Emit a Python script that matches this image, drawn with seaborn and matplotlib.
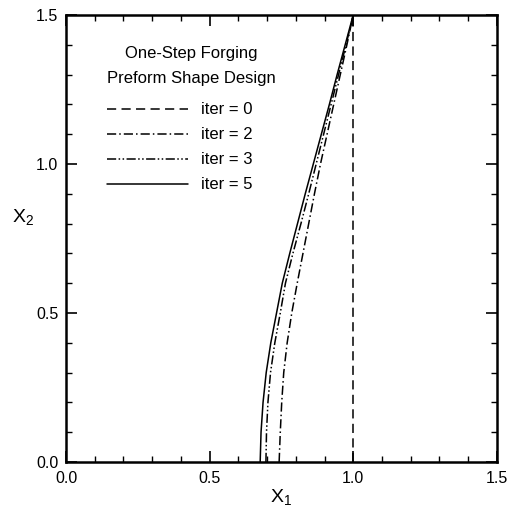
import numpy as np
import pandas as pd
import matplotlib
matplotlib.use("Agg")
import matplotlib.pyplot as plt
from matplotlib.ticker import MultipleLocator, FormatStrFormatter
import seaborn as sns

# Preform boundary profiles: X1 position along the height X2
x2_levels = [0.0, 0.1, 0.2, 0.3, 0.4, 0.5, 0.6, 0.7, 0.8, 0.9, 1.0, 1.1, 1.2, 1.3, 1.4, 1.5]
x1_iter0 = [1.0, 1.0, 1.0, 1.0, 1.0, 1.0, 1.0, 1.0, 1.0, 1.0, 1.0, 1.0, 1.0, 1.0, 1.0, 1.0]
x1_iter2 = [0.742, 0.746, 0.751, 0.758, 0.770, 0.786, 0.805, 0.825, 0.845, 0.865, 0.886, 0.909, 0.932, 0.955, 0.978, 1.0]
x1_iter3 = [0.696, 0.698, 0.703, 0.712, 0.727, 0.746, 0.764, 0.790, 0.818, 0.845, 0.871, 0.897, 0.923, 0.949, 0.975, 1.0]
x1_iter5 = [0.676, 0.679, 0.686, 0.697, 0.713, 0.733, 0.753, 0.779, 0.806, 0.833, 0.861, 0.889, 0.917, 0.944, 0.972, 1.0]

series_labels = ["iter = 0", "iter = 2", "iter = 3", "iter = 5"]
legend_title = "One-Step Forging\nPreform Shape Design"

frames = []
for lab, xs in zip(series_labels, [x1_iter0, x1_iter2, x1_iter3, x1_iter5]):
    frames.append(pd.DataFrame({"X1": xs, "X2": x2_levels, "iteration": lab}))
df = pd.concat(frames, ignore_index=True)

sns.set_theme(style="ticks")
plt.rcParams["font.family"] = ["Liberation Sans", "DejaVu Sans"]
plt.rcParams["mathtext.fontset"] = "custom"
plt.rcParams["mathtext.rm"] = "Liberation Sans"
plt.rcParams["text.color"] = "black"
plt.rcParams["axes.labelcolor"] = "black"
plt.rcParams["xtick.color"] = "black"
plt.rcParams["ytick.color"] = "black"

fig = plt.figure(figsize=(5.08, 5.08), dpi=100)
ax = fig.add_axes([0.130, 0.0906, 0.848, 0.880])

dash_styles = {
    "iter = 0": (6, 3.5),
    "iter = 2": (6, 2, 1, 2),
    "iter = 3": (6, 1.6, 1, 1.6, 1, 1.6),
    "iter = 5": "",
}
palette = {lab: "black" for lab in series_labels}

sns.lineplot(data=df, x="X1", y="X2", hue="iteration", style="iteration",
             hue_order=series_labels, style_order=series_labels,
             palette=palette, dashes=dash_styles, sort=False,
             estimator=None, linewidth=1.1, legend=False, ax=ax)

ax.set_xlim(0, 1.5)
ax.set_ylim(0, 1.5)
ax.xaxis.set_major_locator(MultipleLocator(0.5))
ax.yaxis.set_major_locator(MultipleLocator(0.5))
ax.xaxis.set_minor_locator(MultipleLocator(0.1))
ax.yaxis.set_minor_locator(MultipleLocator(0.1))
ax.tick_params(which="both", direction="in", top=True, right=True,
               color="black", labelsize=11.5, labelcolor="black")
ax.tick_params(which="major", length=8, width=1.2)
ax.tick_params(which="minor", length=4, width=1.0)
ax.tick_params(axis="x", which="major", pad=6.5)
ax.tick_params(axis="y", which="major", pad=5.5)
ax.xaxis.set_major_formatter(FormatStrFormatter("%.1f"))
ax.yaxis.set_major_formatter(FormatStrFormatter("%.1f"))
for sp in ax.spines.values():
    sp.set_linewidth(1.8)
    sp.set_color("black")

ax.set_xlabel(r"$\mathregular{X_1}$", fontsize=14, labelpad=0.5)
ax.set_ylabel(r"$\mathregular{X_2}$", fontsize=14, rotation=0, va="center", ha="center")
ax.yaxis.set_label_coords(-0.1, 0.548)

handles = ax.get_lines()[:4]
leg = ax.legend(handles, series_labels, title=legend_title, loc="upper left",
                bbox_to_anchor=(0.095, 0.93), frameon=False, fontsize=12,
                title_fontsize=12, handlelength=4.85, labelspacing=0.6,
                handletextpad=0.8, borderpad=0, borderaxespad=0)
leg.get_title().set_multialignment("center")
leg.get_title().set_linespacing(1.8)
leg._legend_box.sep = 12
leg._legend_box.align = "left"
for t in leg.get_texts():
    t.set_color("black")

fig.savefig("out.png", dpi=100)
